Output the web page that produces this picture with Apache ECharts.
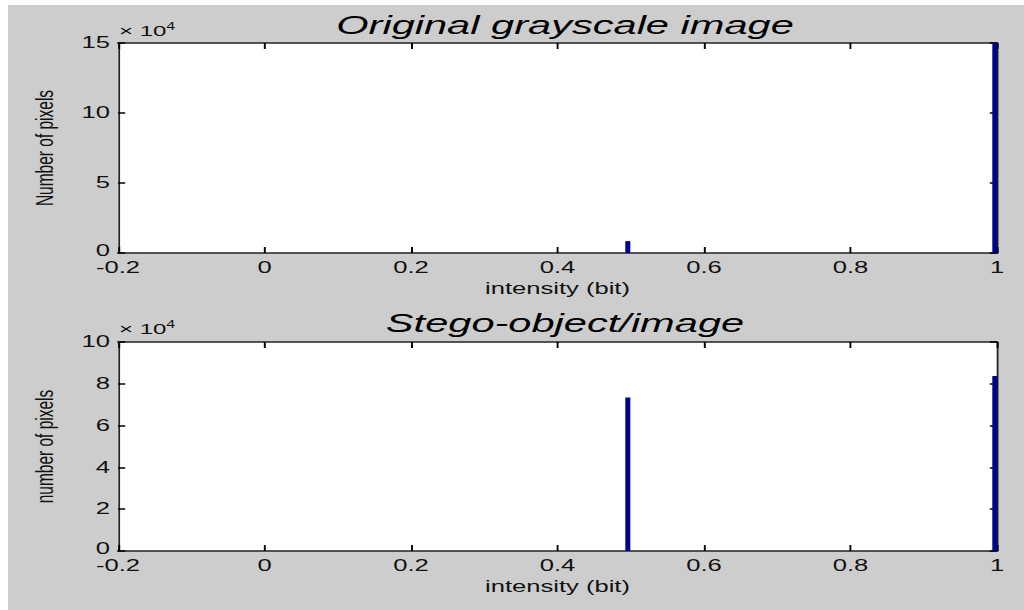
<!DOCTYPE html>
<html>
<head>
<meta charset="utf-8">
<script src="https://cdn.jsdelivr.net/npm/echarts@6/dist/echarts.min.js"></script>
<style>
html,body{margin:0;padding:0;background:#fff;overflow:hidden;}
#wrap{width:1024px;height:610px;overflow:hidden;position:relative;}
#chart{width:640px;height:610px;transform:scaleX(1.6);transform-origin:0 0;}
</style>
</head>
<body>
<div id="wrap"><div id="chart"></div></div>
<script>
// Data
const titles = ['Original grayscale image', 'Stego-object/image'];
const yNames = ['Number of pixels', 'number of pixels'];
const xName = 'intensity (bit)';
const xTicks = [-0.2, 0, 0.2, 0.4, 0.6, 0.8, 1];
const binCenters = [0.496, 0.997];
const originalCounts = [8500, 150000];
const stegoCounts = [73500, 83700];
const yMax = [150000, 100000];
const yStep = [50000, 20000];

// The original figure is stretched horizontally; draw at a narrower width and stretch.
const SX = 1.6;
const chart = echarts.init(document.getElementById('chart'), null, {renderer: 'svg'});
const FONT = '"Liberation Sans", Arial, sans-serif';
const grids = [
  {left: 118 / SX, top: 43, width: 879 / SX, height: 210},
  {left: 118 / SX, top: 342, width: 879 / SX, height: 209}
];
const xLine = {show: true, onZero: false, lineStyle: {color: '#222', width: 1.6}};
const yLine = {show: true, onZero: false, lineStyle: {color: '#222', width: 1.1}};
const xTick = {show: true, inside: true, length: 6, lineStyle: {color: '#000', width: 1.2}};
const yTick = {show: true, inside: true, length: 4.5, lineStyle: {color: '#000', width: 1.5}};
const labelStyle = {color: '#111', fontFamily: FONT, fontSize: 16};

const xAxes = [], yAxes = [], series = [];
[0, 1].forEach(i => {
  xAxes.push({
    gridIndex: i, type: 'value', min: xTicks[0], max: xTicks[xTicks.length - 1], interval: 0.2,
    position: 'bottom', z: 5,
    axisLine: xLine, axisTick: xTick, splitLine: {show: false},
    axisLabel: Object.assign({margin: 7, formatter: v => String(Math.round(v * 10) / 10)}, labelStyle),
    name: xName, nameLocation: 'middle', nameGap: 28,
    nameTextStyle: {color: '#111', fontFamily: FONT, fontSize: 16}
  });
  xAxes.push({
    gridIndex: i, type: 'value', min: xTicks[0], max: xTicks[xTicks.length - 1], interval: 0.2,
    position: 'top', z: 5,
    axisLine: xLine, axisTick: xTick, splitLine: {show: false}, axisLabel: {show: false}
  });
  yAxes.push({
    gridIndex: i, type: 'value', min: 0, max: yMax[i], interval: yStep[i],
    position: 'left', z: 5,
    axisLine: yLine, axisTick: yTick, splitLine: {show: false},
    axisLabel: Object.assign({
      margin: 5,
      formatter: v => v === 0 ? '{z|0}' : String(Math.round(v / 10000)),
      rich: {z: {fontFamily: FONT, fontSize: 16, color: '#111', padding: [0, 0, 5, 0]}}
    }, labelStyle),
    name: yNames[i], nameLocation: 'middle', nameGap: 38, nameRotate: 90,
    nameTextStyle: {color: '#111', fontFamily: FONT, fontSize: 15.5}
  });
  yAxes.push({
    gridIndex: i, type: 'value', min: 0, max: yMax[i], interval: yStep[i],
    position: 'right', z: 5,
    axisLine: yLine, axisTick: yTick, splitLine: {show: false}, axisLabel: {show: false}
  });
});

const sets = [originalCounts, stegoCounts];
[0, 1].forEach(i => {
  series.push({
    type: 'bar', xAxisIndex: i * 2, yAxisIndex: i * 2,
    data: binCenters.map((c, k) => [c, sets[i][k]]),
    barWidth: 5 / SX, clip: true, z: 6,
    itemStyle: {color: '#00008f'},
    silent: true, animation: false
  });
});

const titleStyle = {fontFamily: FONT, fontStyle: 'italic', fontWeight: 'normal', fontSize: 26, color: '#000'};
const expRich = {a: {fontFamily: FONT, fontSize: 15, fill: '#111'}, b: {fontFamily: FONT, fontSize: 10, fill: '#111', verticalAlign: 'top', padding: [0, 0, 8, 0]}};
// White plot areas follow the grid boxes.
const plotBoxes = grids.map(g => ({
  type: 'rect', left: g.left, top: g.top, z: -5, silent: true,
  shape: {width: g.width, height: g.height}, style: {fill: '#ffffff'}
}));
const option = {
  animation: false,
  backgroundColor: '#ffffff',
  grid: grids.map(g => Object.assign({show: false}, g)),
  title: [
    {text: titles[0], left: 557 / SX, top: 7, textAlign: 'center', textStyle: titleStyle},
    {text: titles[1], left: 557 / SX, top: 305, textAlign: 'center', textStyle: titleStyle}
  ],
  graphic: [
    {type: 'rect', left: 8 / SX, top: 5, z: -10, silent: true, shape: {width: 1016 / SX + 2, height: 605}, style: {fill: '#cdcdcd'}}
  ].concat(plotBoxes).concat([
    {type: 'text', left: 119 / SX, top: 22, z: 10, style: {rich: expRich, text: '{a|× 10}{b|4}'}},
    {type: 'text', left: 119 / SX, top: 320, z: 10, style: {rich: expRich, text: '{a|× 10}{b|4}'}}
  ]),
  xAxis: xAxes,
  yAxis: yAxes,
  series: series
};
chart.setOption(option);
</script>
</body>
</html>
